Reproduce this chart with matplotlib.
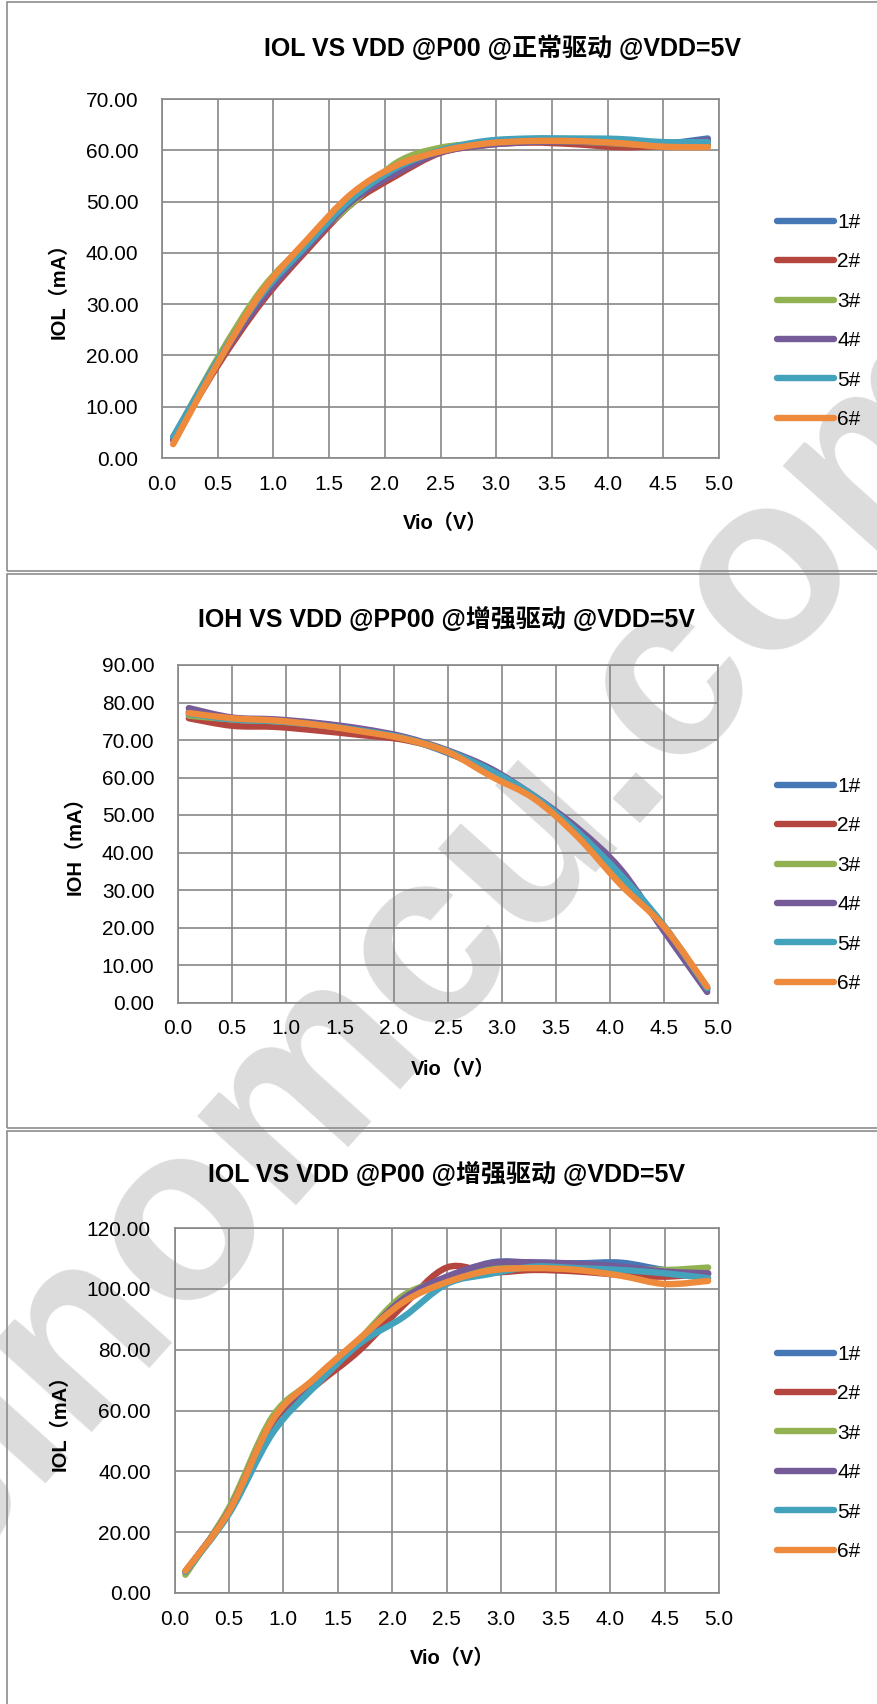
import matplotlib
matplotlib.use('Agg')
import matplotlib.pyplot as plt
from matplotlib.path import Path
from matplotlib.patches import PathPatch, Rectangle
from matplotlib.lines import Line2D
import numpy as np

plt.rcParams['font.family'] = ['Liberation Sans', 'Noto Sans CJK SC', 'DejaVu Sans']

W, H = 877, 1704

# sample points (V)
vio = [0.1, 0.5, 0.9, 1.3, 1.7, 2.1, 2.5, 2.9, 3.3, 3.7, 4.1, 4.5, 4.9]
names = ['1#', '2#', '3#', '4#', '5#', '6#']
colors = ['#4778B6', '#B4463F', '#92B252', '#765B99', '#43A2BC', '#EE8A3C']

# chart 1: IOL normal drive
iol_norm = [
    [4.0, 19.0, 31.5, 41.0, 50.0, 56.0, 59.8, 61.2, 61.8, 61.8, 61.5, 61.3, 62.3],
    [3.5, 18.0, 30.5, 40.5, 49.5, 55.0, 59.5, 61.0, 61.5, 61.2, 60.6, 60.8, 61.0],
    [3.8, 19.5, 33.0, 42.0, 49.5, 57.5, 60.5, 61.3, 61.7, 61.7, 61.3, 60.9, 60.8],
    [3.6, 18.5, 31.0, 41.0, 50.0, 55.5, 59.6, 61.0, 61.6, 61.7, 61.4, 61.2, 62.0],
    [4.1, 19.0, 32.0, 41.5, 50.5, 56.5, 60.0, 61.8, 62.3, 62.3, 62.2, 61.6, 61.6],
    [2.7, 18.5, 32.5, 42.5, 51.5, 57.0, 59.8, 61.3, 61.8, 61.8, 61.4, 60.7, 60.6],
]

# chart 2: IOH enhanced drive
ioh_enh = [
    [77.5, 75.5, 75.0, 74.3, 72.8, 70.5, 66.5, 61.5, 55.0, 46.0, 34.0, 19.8, 3.5],
    [75.8, 73.8, 73.5, 72.5, 71.3, 70.0, 66.8, 61.0, 54.5, 45.0, 33.0, 20.0, 3.8],
    [76.5, 75.5, 75.0, 74.0, 72.5, 70.3, 66.8, 61.2, 54.8, 45.5, 33.5, 20.0, 3.8],
    [78.5, 76.0, 75.5, 74.5, 73.0, 70.8, 67.2, 62.3, 55.0, 46.5, 35.5, 19.0, 2.8],
    [77.0, 75.5, 75.0, 74.0, 72.5, 70.5, 67.0, 61.8, 55.0, 45.5, 34.0, 20.5, 3.8],
    [77.2, 75.8, 75.2, 74.0, 72.3, 70.3, 66.8, 60.3, 54.3, 44.2, 31.4, 20.2, 4.2],
]

# chart 3: IOL enhanced drive
iol_enh = [
    [7.0, 27.0, 56.0, 69.5, 82.0, 95.5, 103.0, 108.6, 108.6, 108.4, 108.6, 106.2, 105.0],
    [7.0, 27.0, 56.0, 68.3, 79.8, 94.5, 107.0, 105.4, 106.2, 105.7, 104.6, 104.0, 105.0],
    [6.0, 28.0, 58.0, 70.5, 83.5, 97.8, 103.0, 107.3, 107.9, 107.3, 106.8, 106.2, 107.0],
    [7.0, 27.0, 56.5, 70.0, 83.0, 96.7, 104.0, 108.4, 108.7, 108.2, 107.3, 105.7, 105.1],
    [7.0, 26.0, 52.5, 68.3, 82.0, 90.7, 101.6, 104.9, 107.3, 106.8, 106.2, 105.1, 103.5],
    [7.3, 26.8, 56.8, 71.0, 83.6, 95.6, 102.2, 106.0, 106.8, 106.2, 104.3, 101.6, 102.6],
]

titles = ['IOL VS VDD @P00 @正常驱动 @VDD=5V',
          'IOH VS VDD @PP00 @增强驱动 @VDD=5V',
          'IOL VS VDD @P00 @增强驱动 @VDD=5V']
ylabels = ['IOL（mA）', 'IOH（mA）', 'IOL（mA）']
xlabel = 'Vio（V）'
ymax = [70, 90, 120]
ystep = [10, 10, 20]


def smooth_path(x, y):
    # excel style smoothed line: catmull-rom turned into cubic beziers
    p = np.column_stack([x, y])
    verts = [p[0]]
    codes = [Path.MOVETO]
    n = len(p)
    for i in range(n - 1):
        p0 = p[i - 1] if i > 0 else p[i]
        p3 = p[i + 2] if i + 2 < n else p[i + 1]
        c1 = p[i] + (p[i + 1] - p0) / 6.0
        c2 = p[i + 1] - (p3 - p[i]) / 6.0
        verts += [c1, c2, p[i + 1]]
        codes += [Path.CURVE4] * 3
    return Path(verts, codes)


def fig_rect(l, r, t, b):
    return [l / W, 1 - b / H, (r - l) / W, (b - t) / H]


fig = plt.figure(figsize=(W / 100, H / 100), dpi=100)
fig.patch.set_facecolor('white')

# watermark under everything
fig.text(430 / W, 1 - 950 / H, 'sinomcu.com', rotation=48, fontsize=180,
         fontweight='bold', color='#DCDCDC', ha='center', va='center',
         rotation_mode='anchor', zorder=-5)

# panel frames
frames = [(7, 2, 571), (7, 574, 1128), (7, 1131, 1712)]
for fl, ft, fb in frames:
    fig.patches.append(Rectangle((fl / W, 1 - fb / H), (W + 20 - fl) / W, (fb - ft) / H,
                                 transform=fig.transFigure, fill=False,
                                 edgecolor='#8C8C8C', lw=1.2, zorder=-4))

axes_px = [(162, 719, 99, 458), (178, 718, 665, 1002.5), (174.5, 719, 1228, 1593)]
title_pos = [(503, 48), (446, 619), (446, 1174)]
xlab_y = [523, 1069, 1658]
ylab_x = [59, 75, 60]
leg_top = [222, 786, 1354]
datasets = [iol_norm, ioh_enh, iol_enh]

for k in range(3):
    l, r, t, b = axes_px[k]
    ax = fig.add_axes(fig_rect(l, r, t, b))
    ax.set_facecolor('none')
    ax.set_xlim(0, 5)
    ax.set_ylim(0, ymax[k])
    ax.set_xticks(np.arange(0, 5.01, 0.5))
    ax.set_yticks(np.arange(0, ymax[k] + 0.01, ystep[k]))
    ax.set_xticklabels(['%.1f' % v for v in np.arange(0, 5.01, 0.5)])
    ax.set_yticklabels(['%.2f' % v for v in np.arange(0, ymax[k] + 0.01, ystep[k])])
    ax.tick_params(length=0, labelsize=15, colors='black')
    ax.tick_params(axis='x', pad=12)
    ax.tick_params(axis='y', pad=17)
    ax.grid(True, color='#878787', lw=1.2)
    ax.set_axisbelow(True)
    for s in ax.spines.values():
        s.set_color('#878787')
        s.set_linewidth(1.2)
        s.set_zorder(0.5)

    for i in range(6):
        patch = PathPatch(smooth_path(vio, datasets[k][i]), fill=False,
                          edgecolor=colors[i], lw=4.6, capstyle='round',
                          joinstyle='round', zorder=3 + i * 0.1)
        ax.add_patch(patch)

    handles = [Line2D([], [], color=c, lw=4.6, solid_capstyle='round') for c in colors]
    leg_cy = leg_top[k] + 2.5 * 39.6
    ax.legend(handles, names, loc='center left',
              bbox_to_anchor=(777 / W, 1 - leg_cy / H), bbox_transform=fig.transFigure,
              frameon=False, fontsize=15, handlelength=2.75, handletextpad=0.15,
              labelspacing=0.98, borderpad=0, borderaxespad=0)

    tx, ty = title_pos[k]
    fig.text(tx / W, 1 - ty / H, titles[k], ha='center', va='center',
             fontsize=18, fontweight='bold')
    fig.text(((l + r) / 2 + 5) / W, 1 - xlab_y[k] / H, xlabel, ha='center',
             va='center', fontsize=14.5, fontweight='bold')
    fig.text(ylab_x[k] / W, 1 - ((t + b) / 2 + 7) / H, ylabels[k], ha='center',
             va='center', rotation=90, fontsize=14.5, fontweight='bold')

fig.savefig('out.png', dpi=100)
